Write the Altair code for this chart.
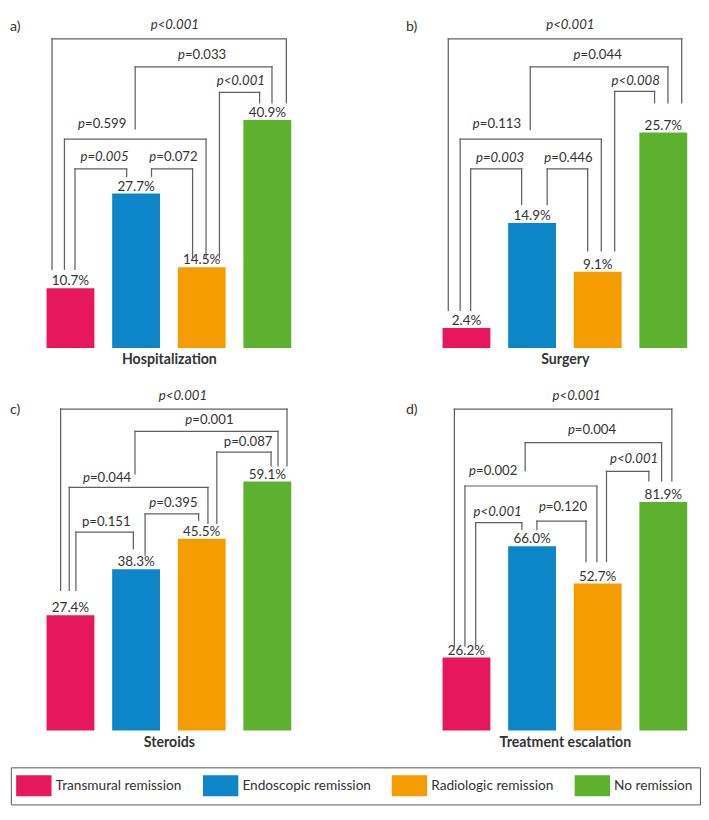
import altair as alt
import pandas as pd

F = 0.98
FONT = "Lato"
TXT = "#333333"
LINE = "#606060"

groups = ["Transmural remission", "Endoscopic remission", "Radiologic remission", "No remission"]
colors = ["#E6175C", "#0D85C9", "#F59C00", "#5DB12F"]
outcomes = ["Hospitalization", "Surgery", "Steroids", "Treatment escalation"]
letters = ["a)", "b)", "c)", "d)"]

hosp_pct = [10.7, 27.7, 14.5, 40.9]
surg_pct = [2.4, 14.9, 9.1, 25.7]
ster_pct = [27.4, 38.3, 45.5, 59.1]
esc_pct = [26.2, 66.0, 52.7, 81.9]

# bracket: (label, italic style, line level, label baseline, label anchor,
#           left leg x, left leg bottom, right leg x, right leg bottom)  -- x in bar index units, y in %
hosp_br = [
    ("p<0.001", "all", 55.45, 57.17, 1.329, -0.281, 14.12, 3.290, 43.96),
    ("p=0.033", "p", 50.43, 51.80, 1.745, 0.986, 39.28, 3.071, 43.96),
    ("p<0.001", "all", 45.85, 47.22, 2.335, 2.270, 16.17, 2.882, 43.96),
    ("p=0.599", "p", 37.44, 39.50, 0.222, -0.092, 14.12, 2.066, 16.17),
    ("p=0.005", "all", 32.13, 33.50, 0.258, 0.069, 14.12, 0.856, 30.75),
    ("p=0.072", "p", 32.13, 33.50, 1.308, 1.235, 30.75, 1.861, 16.17),
]
surg_br = [
    ("p<0.001", "all", 36.86, 38.00, 1.322, -0.277, 4.48, 3.280, 29.22),
    ("p=0.044", "p", 33.52, 34.44, 1.738, 0.972, 26.03, 3.071, 29.22),
    ("p<0.008", "all", 30.59, 31.39, 2.318, 2.259, 11.58, 2.867, 29.22),
    ("p=0.113", "p", 24.89, 26.26, 0.204, -0.096, 4.48, 2.055, 11.58),
    ("p=0.003", "all", 21.36, 22.19, 0.252, 0.064, 4.48, 0.841, 17.10),
    ("p=0.446", "p", 21.36, 22.19, 1.293, 1.230, 17.10, 1.847, 11.58),
]
ster_br = [
    ("p<0.001", "all", 76.28, 78.55, 1.453, -0.150, 33.30, 3.300, 62.81),
    ("p=0.001", "p", 70.99, 72.80, 1.856, 0.983, 60.93, 3.163, 62.81),
    ("p=0.087", "none", 66.06, 67.51, 2.449, 2.230, 49.19, 3.057, 62.81),
    ("p=0.044", "p", 57.75, 58.96, 0.296, -0.019, 33.30, 2.095, 49.19),
    ("p=0.395", "p", 51.46, 53.12, 1.308, 1.137, 41.63, 1.953, 49.94),
    ("p=0.151", "none", 47.08, 48.58, 0.287, 0.083, 33.30, 0.958, 43.13),
]
esc_br = [
    ("p<0.001", "all", 115.15, 118.57, 1.418, -0.184, 30.29, 3.130, 89.44),
    ("p=0.004", "p", 103.15, 106.13, 1.652, 0.895, 93.11, 2.974, 89.44),
    ("p<0.001", "all", 92.87, 95.85, 2.293, 2.134, 60.56, 2.780, 89.44),
    ("p=0.002", "p", 87.63, 91.64, 0.146, -0.023, 30.29, 1.988, 60.56),
    ("p<0.001", "all", 74.50, 77.00, 0.214, 0.141, 30.29, 0.845, 71.97),
    ("p=0.120", "p", 75.05, 78.72, 1.210, 1.074, 71.97, 1.822, 60.56),
]

# layout
XMIN, XMAX = -0.952, 3.392
BAR_HALF = 0.3645
PW = 298 * F
H1 = 342.3 * F
H2 = 355.7 * F

PATH = "M-1.227,-1H2.136V1H-1.227Z"
LEG = alt.Legend(
    title=None, orient="none", legendX=3 * F, legendY=780.7 * F,
    direction="horizontal", columns=4,
    symbolType=PATH, symbolSize=(22 * F) ** 2, symbolStrokeWidth=0,
    labelFont=FONT, labelFontSize=14, labelColor=TXT, labelOffset=16.5 * F,
    columnPadding=20.4, padding=7.8 * F, strokeColor="#555555", labelLimit=400,
)
COLOR = alt.Color("group:N", scale=alt.Scale(domain=groups, range=colors), legend=LEG)


def panel(vals, brackets, ymax, height, outcome, letter, letter_y):
    axis = alt.Axis(title=outcome, labels=False, ticks=False, domain=False, grid=False,
                    titleX=168.2 * F, titleY=16.5 * F, titleAlign="center",
                    titleBaseline="alphabetic", titleFont=FONT, titleFontSize=14.5,
                    titleFontWeight="bold", titleColor=TXT)
    xs = alt.Scale(domain=[XMIN, XMAX], nice=False, zero=False)
    ys = alt.Scale(domain=[0, ymax], nice=False, zero=False)

    def X(f):
        return alt.X(f, type="quantitative", scale=xs, axis=axis)

    def Y(f):
        return alt.Y(f, type="quantitative", scale=ys, axis=None)

    bars = pd.DataFrame({"group": groups, "pct": vals, "idx": list(range(4))})
    bars["x"] = bars["idx"] - BAR_HALF
    bars["xe"] = bars["idx"] + BAR_HALF
    bars["zero"] = 0.0
    bars["lab"] = [f"{v:.1f}%" for v in vals]

    segs = []
    labs = []
    for (t, st, lev, ly, lx, xl, yl, xr, yr) in brackets:
        segs.append(dict(x=xl, xe=xl, y=yl, ye=lev))
        segs.append(dict(x=xl, xe=xr, y=lev, ye=lev))
        segs.append(dict(x=xr, xe=xr, y=yr, ye=lev))
        labs.append(dict(x=lx, y=ly, p=t[0], rest=t[1:], style=st))
    segs = pd.DataFrame(segs)
    labs = pd.DataFrame(labs)

    layers = [
        alt.Chart(bars).mark_bar().encode(x=X("x"), x2="xe:Q", y=Y("pct"), y2="zero:Q", color=COLOR),
        alt.Chart(bars).mark_text(align="center", baseline="alphabetic", dy=-3 * F, font=FONT,
                                  fontSize=13.8, color=TXT).encode(x=X("idx"), y=Y("pct"), text="lab:N"),
        alt.Chart(segs).mark_rule(color=LINE, strokeWidth=1.3 * F, strokeCap="square").encode(
            x=X("x"), x2="xe:Q", y=Y("y"), y2="ye:Q"),
    ]
    for sel, field, align, italic in [
        (labs["style"].isin(["all", "p"]), "p", "right", True),
        (labs["style"] == "none", "p", "right", False),
        (labs["style"] == "all", "rest", "left", True),
        (labs["style"].isin(["p", "none"]), "rest", "left", False),
    ]:
        sub = labs[sel]
        if len(sub) == 0:
            continue
        kw = dict(align=align, baseline="alphabetic", font=FONT, fontSize=13.5, color=TXT)
        if italic:
            kw["fontStyle"] = "italic"
        layers.append(alt.Chart(sub).mark_text(**kw).encode(x=X("x"), y=Y("y"), text=f"{field}:N"))

    # panel letter
    let = pd.DataFrame({"t": [letter]})
    layers.append(
        alt.Chart(let).mark_text(align="left", baseline="alphabetic", font=FONT, fontSize=14.5, color=TXT)
        .encode(x=alt.value(2 * F), y=alt.value(letter_y * F), text="t:N")
    )
    return alt.layer(*layers).properties(width=PW, height=height)


pa = panel(hosp_pct, hosp_br, 58.71, H1, outcomes[0], letters[0], 10.5)
pb = panel(surg_pct, surg_br, 39.03, H1, outcomes[1], letters[1], 10.5)
pc = panel(ster_pct, ster_br, 80.75, H2, outcomes[2], letters[2], 24.5)
pd_ = panel(esc_pct, esc_br, 121.9, H2, outcomes[3], letters[3], 24.5)

chart = (
    alt.concat(pa, pb, pc, pd_, columns=2, spacing={"row": 43.7 * F, "column": 115 * F}, bounds="flush")
    .resolve_scale(x="independent", y="independent", color="shared")
    .properties(padding=0, background="white")
    .configure_view(stroke=None)
)

chart.save("out.html", embed_options={"renderer": "svg", "actions": False})
